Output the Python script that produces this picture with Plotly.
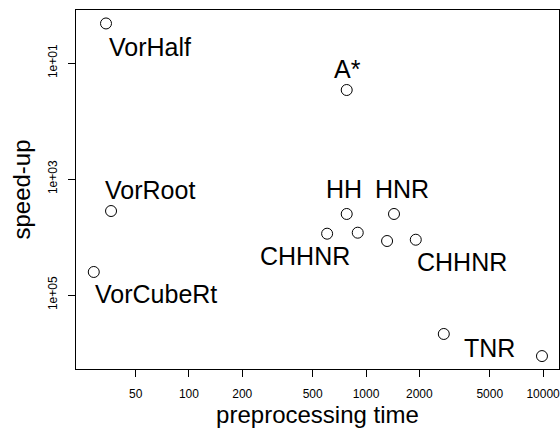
import math
import plotly.graph_objects as go

# data
methods = ["VorHalf", "A*", "VorRoot", "VorCubeRt", "HH", "HNR",
           "CHHNR", "", "", "CHHNR", "TNR", ""]
prep_time = [34, 778, 36.3, 29, 778, 1439, 603, 898, 1315, 1910, 2750, 9860]
speedup = [2.08, 29.2, 3565, 40100, 4010, 4010, 8770, 8430, 11720, 11140, 470000, 1130000]

x_ticks = [50, 100, 200, 500, 1000, 2000, 5000, 10000]
y_ticks = [10, 1000, 100000]
y_tick_text = ["1e+01", "1e+03", "1e+05"]

# label placement offsets in pixels (x, y-up)
label_offsets = {
    0: (44, -24), 1: (1, 21), 2: (39, 21), 3: (62, -22), 4: (-3, 25),
    5: (8, 25), 6: (-22, -22), 9: (46, -22), 10: (46, -14),
}

FONT = "Liberation Sans, Arial, sans-serif"

fig = go.Figure()
fig.add_trace(go.Scatter(
    x=prep_time, y=speedup, mode="markers",
    marker=dict(symbol="circle-open", size=11, color="black", line=dict(width=1, color="black")),
    hoverinfo="skip", showlegend=False,
))

for i, name in enumerate(methods):
    if not name:
        continue
    dx, dy = label_offsets[i]
    fig.add_annotation(
        x=math.log10(prep_time[i]), y=math.log10(speedup[i]), xref="x", yref="y",
        text=name, showarrow=False, xshift=dx, yshift=dy,
        font=dict(family=FONT, size=25, color="black"),
    )

fig.update_layout(
    width=560, height=430,
    margin=dict(l=76, r=1, t=10, b=61),
    paper_bgcolor="white", plot_bgcolor="white",
    font=dict(family=FONT, color="black"),
)
fig.update_xaxes(
    type="log", range=[1.362, 4.09], tickvals=x_ticks, ticktext=[str(v) for v in x_ticks],
    ticks="outside", ticklen=7, tickcolor="black", tickwidth=1, ticklabelstandoff=7,
    ticklabeloverflow="allow",
    showline=True, linecolor="black", linewidth=1, mirror=True, showgrid=False, zeroline=False,
    tickfont=dict(size=12, family=FONT),
    title=dict(text="preprocessing time", font=dict(size=24, family=FONT), standoff=4),
)
fig.update_yaxes(
    type="log", range=[6.276, 0.086], tickvals=y_ticks, ticktext=y_tick_text, tickangle=-90,
    ticks="outside", ticklen=7, tickcolor="black", tickwidth=1, ticklabelstandoff=6,
    showline=True, linecolor="black", linewidth=1, mirror=True, showgrid=False, zeroline=False,
    tickfont=dict(size=12, family=FONT),
    title=dict(text="speed-up", font=dict(size=24, family=FONT), standoff=8),
)

fig.write_html("out.html")
